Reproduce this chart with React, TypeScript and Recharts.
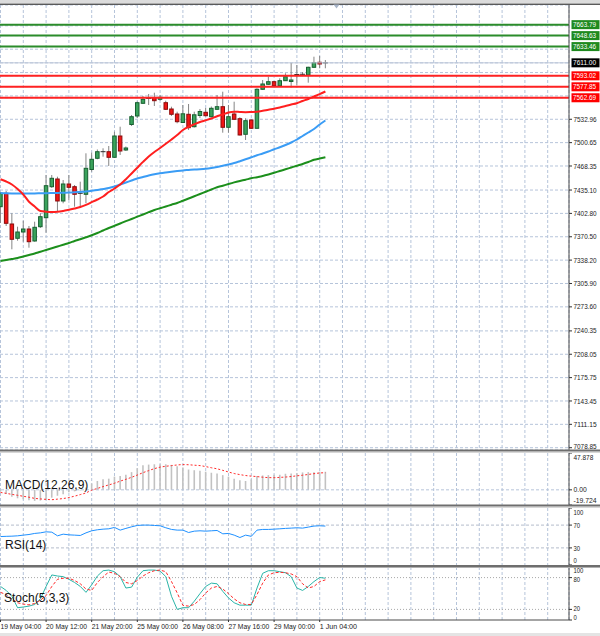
import React from 'react';
import { ComposedChart, Bar, Line, XAxis, YAxis, CartesianGrid, ReferenceLine } from 'recharts';

// H4 candles, 19 May 04:00 .. 1 Jun 08:00
const opens = [
  7412.08, 7430.6, 7388.16, 7368.38, 7377.09, 7381.24, 7364.65, 7384.42, 7396.87, 7439.73,
  7450.38, 7419.96, 7443.46, 7439.73, 7430.05, 7429.22, 7463.51, 7479.0, 7487.29, 7488.12,
  7480.38, 7509.83, 7490.47, 7525.73, 7537.49, 7555.05, 7561.41, 7563.07, 7560.58, 7555.88,
  7547.17, 7540.25, 7528.5, 7539.84, 7522.69, 7538.18, 7542.6, 7536.52, 7546.75, 7550.35,
  7521.86, 7540.25, 7533.75, 7512.18, 7531.96, 7520.48, 7574.4, 7581.32, 7584.91, 7579.38,
  7586.3, 7585.19, 7593.76, 7594.18, 7594.18, 7604.82, 7611.74, 7611.0,
];
const highs = [
  7432.4, 7433.78, 7402.95, 7384.42, 7392.72, 7385.39, 7391.34, 7402.95, 7455.91, 7455.91,
  7453.56, 7448.99, 7455.91, 7442.08, 7446.64, 7485.91, 7486.74, 7491.17, 7492.83, 7496.01,
  7515.78, 7522.69, 7495.32, 7538.87, 7557.54, 7565.14, 7567.91, 7569.7, 7566.52, 7558.64,
  7550.35, 7543.43, 7552.7, 7554.08, 7543.43, 7547.17, 7548.55, 7550.62, 7566.52, 7571.09,
  7552.7, 7557.26, 7535.69, 7534.31, 7532.92, 7575.79, 7587.26, 7591.83, 7585.88, 7589.62,
  7596.53, 7610.77, 7608.0, 7598.33, 7605.65, 7619.48, 7620.45, 7614.92,
];
const lows = [
  7389.54, 7385.39, 7353.17, 7365.06, 7363.68, 7355.39, 7363.68, 7382.62, 7376.13, 7437.93,
  7405.16, 7416.78, 7421.34, 7412.08, 7412.08, 7416.78, 7460.47, 7477.62, 7481.21, 7468.35,
  7479.41, 7483.56, 7489.09, 7523.66, 7534.72, 7554.08, 7552.7, 7551.31, 7558.64, 7545.78,
  7537.49, 7527.39, 7527.81, 7518.13, 7521.59, 7534.72, 7536.8, 7535.41, 7545.78, 7514.4,
  7514.4, 7531.96, 7510.52, 7504.3, 7519.51, 7519.93, 7573.44, 7580.35, 7577.59, 7578.97,
  7585.88, 7576.89, 7580.35, 7592.79, 7583.53, 7604.27, 7603.44, 7603.44,
];
const closes = [
  7430.6, 7389.12, 7367.0, 7377.09, 7381.24, 7363.68, 7383.59, 7398.25, 7441.11, 7451.34,
  7419.96, 7443.46, 7438.9, 7429.22, 7430.6, 7465.17, 7477.62, 7488.12, 7488.12, 7480.38,
  7509.83, 7489.09, 7493.24, 7536.52, 7555.88, 7560.58, 7561.68, 7558.64, 7563.34, 7546.75,
  7539.84, 7529.61, 7540.53, 7521.31, 7539.15, 7543.71, 7537.9, 7548.13, 7550.35, 7521.86,
  7536.52, 7532.92, 7511.22, 7530.99, 7520.48, 7574.4, 7581.73, 7584.91, 7579.38, 7586.3,
  7591.83, 7587.26, 7594.87, 7595.15, 7604.82, 7611.18, 7609.39, 7611.0,
];

// moving averages
const maRed = [
  7450.1, 7446.92, 7442.77, 7436.55, 7428.95, 7418.85, 7412.35, 7406.13, 7405.16, 7404.75,
  7405.02, 7406.13, 7407.79, 7409.59, 7411.66, 7414.7, 7418.3, 7422.03, 7426.18, 7432.4,
  7437.24, 7442.77, 7450.0, 7458.0, 7466.0, 7474.0, 7481.5, 7487.71, 7493.24, 7499.05,
  7504.99, 7511.22, 7518.13, 7522.55, 7526.01, 7529.19, 7531.54, 7534.03, 7537.21, 7539.56,
  7542.33, 7543.43, 7543.02, 7542.74, 7543.02, 7543.43, 7544.68, 7546.2, 7547.58, 7549.24,
  7551.31, 7553.39, 7555.19, 7558.23, 7560.99, 7564.45, 7567.63, 7571.36,
];
const maBlue = [
  7431.02, 7430.6, 7430.33, 7430.19, 7430.19, 7430.33, 7430.47, 7430.6, 7430.74, 7430.88,
  7431.02, 7431.3, 7431.57, 7431.99, 7432.54, 7433.09, 7434.06, 7435.17, 7436.55, 7437.93,
  7440.01, 7442.77, 7445.54, 7448.3, 7451.07, 7453.14, 7455.22, 7457.01, 7458.4, 7459.5,
  7460.47, 7461.44, 7462.27, 7462.82, 7463.37, 7463.79, 7464.48, 7465.59, 7466.97, 7468.63,
  7470.43, 7472.5, 7474.99, 7477.62, 7480.38, 7483.15, 7485.64, 7488.4, 7491.44, 7494.21,
  7497.39, 7500.85, 7504.99, 7509.83, 7514.67, 7519.51, 7525.73, 7531.26,
];
const maGreen = [
  7337.0, 7338.38, 7339.76, 7341.14, 7343.22, 7345.29, 7347.37, 7349.86, 7352.2, 7354.56,
  7357.04, 7359.53, 7361.89, 7364.65, 7367.14, 7369.77, 7372.53, 7375.71, 7379.17, 7382.62,
  7385.67, 7388.85, 7392.03, 7395.07, 7398.25, 7401.29, 7404.47, 7407.51, 7410.0, 7412.35,
  7414.84, 7417.19, 7420.37, 7423.42, 7426.46, 7429.64, 7432.68, 7435.86, 7438.9, 7441.11,
  7443.46, 7445.67, 7447.61, 7449.41, 7451.35, 7452.87, 7454.52, 7456.6, 7458.95, 7461.44,
  7463.79, 7466.28, 7468.77, 7471.12, 7473.88, 7476.93, 7478.72, 7480.52,
];

// MACD(12,26,9)
const macdHist = [
  -2.6, -5.5, -8.9, -11.0, -12.3, -13.5, -14.4, -14.0, -12.8, -10.2,
  -7.7, -5.9, -3.3, -2.0, -0.8, 3.0, 8.2, 11.5, 13.6, 14.5,
  17.1, 17.9, 19.6, 23.0, 28.1, 31.9, 32.8, 33.2, 33.2, 33.2,
  32.4, 30.6, 29.0, 26.4, 25.5, 24.7, 23.5, 22.2, 21.3, 19.1,
  17.1, 14.5, 12.4, 11.5, 13.6, 17.9, 18.7, 19.1, 19.6, 19.6,
  20.9, 21.3, 21.7, 22.6, 23.0, 23.0, 23.5, 23.5,
];
const macdSignal = [
  -3.4, -4.6, -5.9, -7.1, -8.4, -9.6, -11.1, -11.8, -12.4, -12.8,
  -12.1, -11.3, -10.0, -8.2, -6.2, -3.9, -0.5, 1.8, 4.2, 6.4,
  8.6, 11.3, 13.7, 16.3, 19.2, 22.3, 25.0, 27.5, 29.5, 30.6,
  31.5, 32.3, 32.8, 32.6, 32.0, 31.5, 30.2, 28.7, 27.3, 25.3,
  23.2, 21.2, 19.8, 18.6, 17.8, 17.2, 16.4, 15.9, 15.8, 16.2,
  16.6, 17.3, 18.2, 19.0, 20.0, 21.0, 21.9, 22.2,
];

// RSI(14)
const rsiValues = [
  49.9, 50.3, 50.6, 51.2, 52.4, 53.5, 55.4, 56.4, 58.2, 57.6,
  51.2, 54.1, 52.9, 52.4, 51.8, 56.4, 60.0, 61.8, 62.9, 63.5,
  65.9, 61.2, 64.2, 67.0, 69.4, 70.0, 70.0, 69.4, 68.8, 65.3,
  62.4, 61.2, 61.2, 57.0, 59.4, 60.0, 59.4, 60.0, 60.6, 54.7,
  55.4, 52.4, 48.2, 52.4, 50.3, 61.2, 62.4, 62.4, 62.9, 63.5,
  64.2, 64.7, 65.3, 64.7, 66.5, 68.3, 68.8, 68.3,
];

// Stoch(5,3,3)
const stochMain = [
  63.3, 55.8, 44.7, 23.2, 24.5, 26.2, 29.3, 39.8, 63.3, 85.0,
  83.0, 81.8, 76.8, 70.8, 63.3, 52.2, 66.4, 83.0, 93.0, 94.2,
  91.1, 81.8, 60.3, 62.0, 80.7, 93.0, 94.2, 94.2, 92.4, 81.8,
  44.7, 20.0, 23.2, 23.2, 35.5, 49.8, 63.3, 69.6, 68.3, 54.0,
  41.6, 32.5, 28.0, 28.0, 28.0, 60.3, 88.1, 93.0, 93.0, 91.1,
  89.2, 81.8, 60.3, 55.8, 63.3, 72.5, 80.2, 78.8,
];
const stochSignal = [
  52.2, 47.9, 39.8, 32.5, 30.0, 28.6, 31.2, 37.3, 46.0, 63.3,
  76.8, 78.8, 78.8, 74.5, 68.3, 58.4, 55.8, 70.8, 81.8, 90.5,
  88.1, 81.8, 70.8, 68.3, 74.5, 83.0, 89.2, 93.0, 94.2, 91.1,
  72.5, 51.0, 27.5, 26.2, 29.3, 38.5, 51.0, 60.3, 63.3, 58.4,
  49.8, 39.8, 32.5, 29.3, 29.3, 47.9, 69.6, 85.0, 89.2, 90.0,
  89.2, 86.9, 81.8, 68.3, 60.3, 63.3, 72.5, 75.7,
];

const timeLabels = [
  '19 May 04:00', '20 May 12:00', '21 May 20:00', '25 May 00:00',
  '26 May 08:00', '27 May 16:00', '29 May 00:00', '1 Jun 04:00',
];
const priceLabels = [
  7078.85, 7111.15, 7143.45, 7175.75, 7208.05, 7240.35, 7273.6, 7305.9,
  7338.2, 7370.5, 7402.8, 7435.1, 7468.35, 7500.65, 7532.96,
];
const coveredTicks = [7565.26, 7597.56, 7629.86, 7662.16];
const resistanceLevels = [7663.79, 7648.63, 7633.46];
const supportLevels = [7593.02, 7577.85, 7562.69];
const lastPrice = 7611.0;
const macdTicks = [-19.724, 0, 47.878];
const rsiTicks = [0, 30, 70, 100];
const stochTicks = [0, 20, 80, 100];

const PRICE_MIN = 7075.66;
const PRICE_MAX = 7690.96;
const X_MIN = -0.0877;
const X_MAX = 99.737;
const gridTicks = Array.from({ length: 25 }, (_, k) => k * 4);

const data = opens.map((o, i) => ({
  i,
  open: o,
  high: highs[i],
  low: lows[i],
  close: closes[i],
  range: [lows[i], highs[i]],
  maRed: maRed[i],
  maBlue: maBlue[i],
  maGreen: maGreen[i],
  hist: macdHist[i],
  signal: macdSignal[i],
  rsi: rsiValues[i],
  k: stochMain[i],
  d: stochSignal[i],
}));

const FONT = "'Liberation Sans', Arial, sans-serif";
const GRID = '#b6c4da';
const AXIS = '#4a4a4a';
const TICK_FONT = 7.2;

function Candle(props: any) {
  const { x, y, width, height, payload } = props;
  if (!payload || x == null || y == null) return <g />;
  const top = Math.min(y, y + height);
  const h = Math.abs(height);
  const span = payload.high - payload.low;
  const k = span > 0 ? h / span : 0;
  const py = (v: number) => top + (payload.high - v) * k;
  const cx = x + width / 2;
  const yo = py(payload.open);
  const yc = py(payload.close);
  const bodyTop = Math.min(yo, yc);
  const bodyH = Math.abs(yc - yo);
  const up = payload.close >= payload.open;
  return (
    <g>
      <line x1={cx} x2={cx} y1={top} y2={top + h} stroke="#858585" strokeWidth={1} />
      {bodyH < 1 ? (
        <line x1={cx - 2.5} x2={cx + 2.5} y1={bodyTop} y2={bodyTop} stroke="#2a2a2a" strokeWidth={1} />
      ) : (
        <rect
          x={cx - 1.75}
          y={bodyTop}
          width={3.5}
          height={bodyH}
          fill={up ? '#3aa35c' : '#f01515'}
          stroke={up ? '#175f30' : '#8a0c0c'}
          strokeWidth={1}
        />
      )}
    </g>
  );
}

function AxisText({ x, y, label, fill = '#1a1a1a' }: any) {
  return (
    <text
      x={x}
      y={y}
      fill={fill}
      fontSize={TICK_FONT}
      fontFamily={FONT}
      textLength={label.length * 3.3}
      lengthAdjust="spacingAndGlyphs"
    >
      {label}
    </text>
  );
}

function PriceTick(props: any) {
  const { x, y, payload } = props;
  const v = payload.value;
  const label = v.toFixed(2);
  const isRes = resistanceLevels.includes(v);
  const isSup = supportLevels.includes(v);
  if (isRes || isSup || v === lastPrice) {
    const bg = isRes ? '#1f8a1f' : isSup ? '#ff0000' : '#000000';
    return (
      <g>
        <rect x={x + 2.5} y={y - 4.5} width={28} height={9} fill={bg} />
        <AxisText x={x + 4} y={y + 2.6} label={label} fill="#ffffff" />
      </g>
    );
  }
  if (!priceLabels.includes(v)) return <g />;
  // the lowest label sits right on the panel separator, lift it a little
  const dy = v === priceLabels[0] ? 1.2 : 2.6;
  return (
    <g>
      <line x1={x} x2={x + 3} y1={y} y2={y} stroke="#333" />
      <AxisText x={x + 4.5} y={y + dy} label={label} />
    </g>
  );
}

function makePanelTick(ticks: number[], fmt: (v: number) => string, edge = 0) {
  const min = ticks[0];
  const max = ticks[ticks.length - 1];
  return function PanelTick(props: any) {
    const { x, y, payload } = props;
    const v = payload.value;
    // edge: pushes the crowded labels near the panel borders apart
    let dy = 2.6;
    if (v === max) dy = 6.8 - edge;
    else if (v === min) dy = -1.8 + edge;
    else if (v === ticks[1]) dy = 2.6 - edge;
    else if (v === ticks[ticks.length - 2]) dy = 2.6 + edge;
    return (
      <g>
        <line x1={x} x2={x + 3} y1={y} y2={y} stroke="#333" />
        <AxisText x={x + 4.5} y={y + dy} label={fmt(v)} />
      </g>
    );
  };
}

const MacdTick = makePanelTick(macdTicks, (v) => (v === 0 ? '0.00' : String(v)));
const RsiTick = makePanelTick(rsiTicks, (v) => String(v));
const StochTick = makePanelTick(stochTicks, (v) => String(v), 1.3);

function TimeTick(props: any) {
  const { x, y, payload } = props;
  const v = payload.value;
  if (v % 8 !== 0 || v / 8 >= timeLabels.length) return <g />;
  const label = timeLabels[v / 8];
  return (
    <g>
      <line x1={x} x2={x} y1={y} y2={y + 2} stroke="#333" />
      <text
        x={x}
        y={y + 8.5}
        fill="#1a1a1a"
        fontSize={TICK_FONT}
        fontFamily={FONT}
        textLength={label.length * 3.4}
        lengthAdjust="spacingAndGlyphs"
      >
        {label}
      </text>
    </g>
  );
}

const margin = { top: 0, right: 0, bottom: 0, left: 0 };

export default function App() {
  const xProps = {
    dataKey: 'i',
    type: 'number' as const,
    domain: [X_MIN, X_MAX],
    ticks: gridTicks,
    interval: 0,
    allowDataOverflow: true,
  };
  const yCommon = {
    orientation: 'right' as const,
    width: 31,
    interval: 0,
    tickSize: 0,
    tickMargin: 0,
    tickLine: false,
    allowDataOverflow: true,
    axisLine: { stroke: AXIS },
  };

  return (
    <div style={{ position: 'absolute', left: 0, top: 0, width: 600, height: 636, background: '#fff', overflow: 'hidden' }}>
      {/* price panel */}
      <div style={{ position: 'absolute', left: 0, top: 5 }}>
        <ComposedChart width={600} height={445} data={data} margin={margin}>
          <CartesianGrid stroke={GRID} strokeDasharray="3 2" />
          <XAxis {...xProps} hide />
          <YAxis
            {...yCommon}
            domain={[PRICE_MIN, PRICE_MAX]}
            ticks={[...priceLabels, ...coveredTicks, ...supportLevels, ...resistanceLevels, lastPrice]}
            tick={(p: any) => <PriceTick {...p} />}
          />
          {resistanceLevels.map((v) => (
            <ReferenceLine key={v} y={v} stroke="#2b8c2b" strokeWidth={2} />
          ))}
          {supportLevels.map((v) => (
            <ReferenceLine key={v} y={v} stroke="#ff2222" strokeWidth={2} />
          ))}
          <ReferenceLine y={lastPrice} stroke="#bcc6d8" strokeWidth={1} />
          <Bar dataKey="range" barSize={3.6} shape={(p: any) => <Candle {...p} />} isAnimationActive={false} />
          <Line dataKey="maGreen" type="monotone" stroke="#1c8f1c" strokeWidth={2} dot={false} isAnimationActive={false} />
          <Line dataKey="maBlue" type="monotone" stroke="#3a9cf5" strokeWidth={2} dot={false} isAnimationActive={false} />
          <Line dataKey="maRed" type="monotone" stroke="#ff1f1f" strokeWidth={2} dot={false} isAnimationActive={false} />
        </ComposedChart>
      </div>

      {/* MACD */}
      <div style={{ position: 'absolute', left: 0, top: 453 }}>
        <ComposedChart width={600} height={52} data={data} margin={margin}>
          <CartesianGrid stroke={GRID} strokeDasharray="3 2" horizontal={false} />
          <XAxis {...xProps} hide />
          <YAxis {...yCommon} domain={[-19.724, 47.878]} ticks={macdTicks} tick={(p: any) => <MacdTick {...p} />} />
          <ReferenceLine y={0} stroke={GRID} strokeDasharray="3 2" />
          <Bar dataKey="hist" barSize={1.6} fill="#c2c2c2" isAnimationActive={false} />
          <Line dataKey="signal" type="monotone" stroke="#ff2a2a" strokeWidth={1} strokeDasharray="2 2" dot={false} isAnimationActive={false} />
        </ComposedChart>
      </div>

      {/* RSI */}
      <div style={{ position: 'absolute', left: 0, top: 508 }}>
        <ComposedChart width={600} height={57} data={data} margin={margin}>
          <CartesianGrid stroke={GRID} strokeDasharray="3 2" horizontal={false} />
          <XAxis {...xProps} hide />
          <YAxis {...yCommon} domain={[0, 100]} ticks={rsiTicks} tick={(p: any) => <RsiTick {...p} />} />
          <ReferenceLine y={70} stroke="#b4bccb" strokeDasharray="3 2" />
          <ReferenceLine y={30} stroke="#b4bccb" strokeDasharray="3 2" />
          <Line dataKey="rsi" type="linear" stroke="#1e90ff" strokeWidth={1} dot={false} isAnimationActive={false} />
        </ComposedChart>
      </div>

      {/* Stochastic */}
      <div style={{ position: 'absolute', left: 0, top: 567 }}>
        <ComposedChart width={600} height={68} data={data} margin={margin}>
          <CartesianGrid stroke={GRID} strokeDasharray="3 2" horizontal={false} />
          <XAxis
            {...xProps}
            height={15}
            tickSize={0}
            tickMargin={0}
            tickLine={false}
            axisLine={{ stroke: AXIS }}
            tick={(p: any) => <TimeTick {...p} />}
          />
          <YAxis {...yCommon} domain={[0, 100]} ticks={stochTicks} tick={(p: any) => <StochTick {...p} />} />
          <ReferenceLine y={80} stroke="#a8a8a8" strokeDasharray="1 2" />
          <ReferenceLine y={20} stroke="#a8a8a8" strokeDasharray="1 2" />
          <Line dataKey="k" type="linear" stroke="#2bb5a8" strokeWidth={1} dot={false} isAnimationActive={false} />
          <Line dataKey="d" type="linear" stroke="#ff2a2a" strokeWidth={1} strokeDasharray="3 2" dot={false} isAnimationActive={false} />
        </ComposedChart>
      </div>

      {/* frame, separators and panel titles */}
      <svg width={600} height={636} style={{ position: 'absolute', left: 0, top: 0, pointerEvents: 'none' }}>
        <rect x={0} y={0} width={600} height={3} fill="#dcdcdc" />
        <rect x={0} y={3.5} width={600} height={1.5} fill="#5a5a5a" />
        <polygon points="333.5,4.5 339.5,4.5 336.5,8.5" fill="#a7b4c8" />
        <rect x={0} y={449.5} width={600} height={2} fill="#6e6e6e" />
        <rect x={0} y={451.5} width={600} height={1} fill="#b0b0b0" />
        <rect x={0} y={504.5} width={600} height={2} fill="#6e6e6e" />
        <rect x={0} y={506.5} width={600} height={1} fill="#b0b0b0" />
        <rect x={0} y={565} width={600} height={2} fill="#6e6e6e" />
        <rect x={0} y={567} width={600} height={1} fill="#b0b0b0" />
        <rect x={0} y={633} width={600} height={3} fill="#e4e4e4" />
        <text x={5} y={488.5} fontSize={12} fontFamily={FONT} fill="#111">MACD(12,26,9)</text>
        <text x={5} y={548.5} fontSize={12} fontFamily={FONT} fill="#111">RSI(14)</text>
        <text x={4} y={601.5} fontSize={12} fontFamily={FONT} fill="#111">Stoch(5,3,3)</text>
      </svg>
    </div>
  );
}
